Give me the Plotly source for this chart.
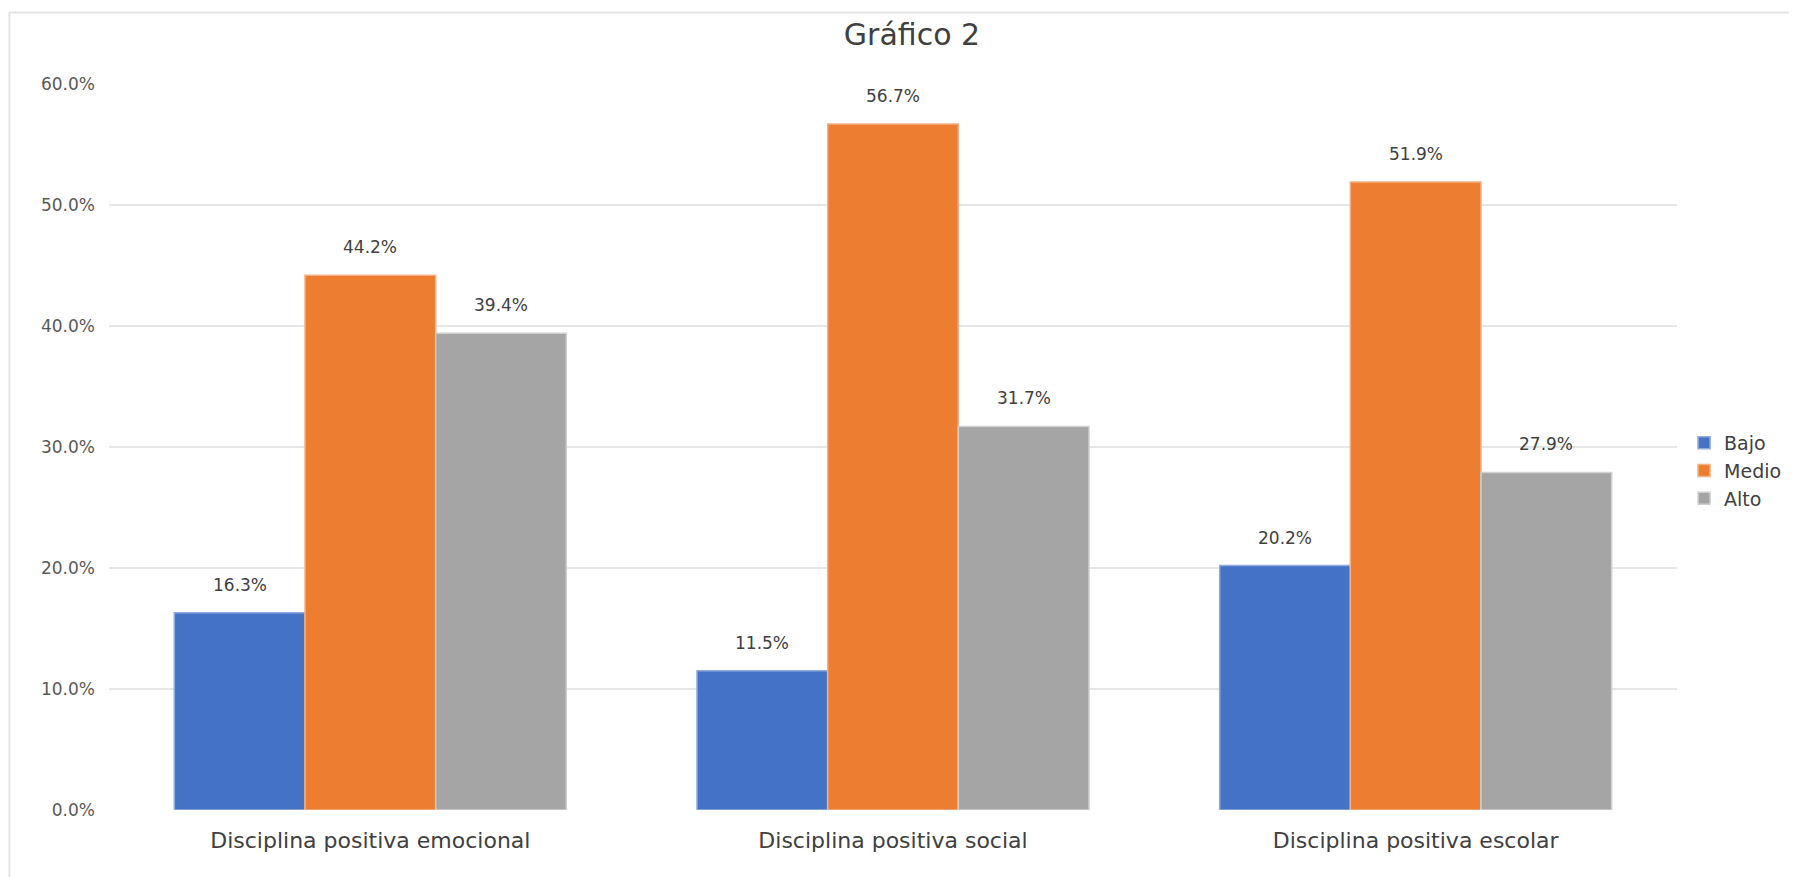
import plotly.graph_objects as go

categories = ["Disciplina positiva emocional", "Disciplina positiva social", "Disciplina positiva escolar"]
series_names = ["Bajo", "Medio", "Alto"]
bajo = [16.3, 11.5, 20.2]
medio = [44.2, 56.7, 51.9]
alto = [39.4, 31.7, 27.9]
y_ticks = [0, 10, 20, 30, 40, 50, 60]

colors = ["#4472C4", "#ED7D31", "#A5A5A5"]
edges = ["#8FAADC", "#F4B183", "#CFCFCF"]

W, H = 1789, 869          # page body has an 8px default margin
ML, MR, MT, MB = 101, 120, 76, 67
BARGAP = 0.25
plot_w = W - ML - MR
bar_px = plot_w / len(categories) * (1 - BARGAP) / len(series_names)

fig = go.Figure()
all_series = [bajo, medio, alto]
for j, (name, vals, c, e) in enumerate(zip(series_names, all_series, colors, edges)):
    fig.add_trace(go.Bar(
        name=name, x=categories, y=vals,
        marker=dict(color=c, line=dict(color=e, width=1.5)),
    ))
    for cat, v in zip(categories, vals):
        fig.add_annotation(
            x=cat, y=v, xref="x", yref="y", text=f"{v:.1f}%",
            showarrow=False, yanchor="bottom", xanchor="center",
            xshift=(j - (len(series_names) - 1) / 2) * bar_px, yshift=16,
            font=dict(family="DejaVu Sans", size=17, color="#404040"),
        )

fig.update_layout(
    width=W, height=H,
    barmode="group", bargap=BARGAP, bargroupgap=0,
    paper_bgcolor="white", plot_bgcolor="white",
    margin=dict(l=ML, r=MR, t=MT, b=MB, autoexpand=False),
    title=dict(text="Gráfico 2", x=0.5053, xanchor="center", y=0.970, yanchor="middle",
               font=dict(family="DejaVu Sans", size=30, color="#404040")),
    font=dict(family="DejaVu Sans", color="#595959"),
    legend=dict(x=1.0045, xanchor="left", y=0.467, yanchor="middle",
                font=dict(family="DejaVu Sans", size=19, color="#404040"),
                itemwidth=30, traceorder="normal"),
    showlegend=True,
)
fig.update_yaxes(range=[0, 60], tickvals=y_ticks, ticktext=[f"{t:.1f}%" for t in y_ticks],
                 showgrid=True, gridcolor="#E6E6E6", gridwidth=1.5,
                 zeroline=False, showline=False, ticks="",
                 ticklabelstandoff=13,
                 tickfont=dict(family="DejaVu Sans", size=17, color="#595959"))
fig.update_xaxes(showline=False, ticks="", showgrid=False,
                 ticklabelstandoff=15,
                 tickfont=dict(family="DejaVu Sans", size=22, color="#404040"))

# chart-area frame (top and left edges visible)
fig.add_shape(type="line", xref="paper", yref="paper",
              x0=-0.0635, x1=1.2, y0=1.0985, y1=1.0985,
              line=dict(color="#E3E3E3", width=2), layer="below")
fig.add_shape(type="line", xref="paper", yref="paper",
              x0=-0.0635, x1=-0.0635, y0=-0.2, y1=1.0985,
              line=dict(color="#E3E3E3", width=2), layer="below")

fig.write_html("out.html")
